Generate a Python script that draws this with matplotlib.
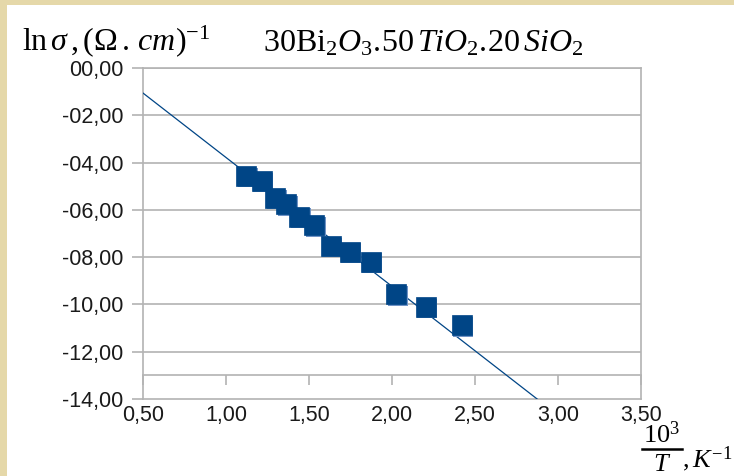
import numpy as np
import matplotlib
matplotlib.use("Agg")
import matplotlib.pyplot as plt
import matplotlib.patheffects as pe
from matplotlib.lines import Line2D

# ---- data ----
inv_T = [1.120, 1.215, 1.295, 1.361, 1.440, 1.530, 1.631, 1.745, 1.872, 2.024, 2.203, 2.420]
ln_sigma = [-4.56, -4.77, -5.49, -5.77, -6.29, -6.64, -7.52, -7.77, -8.19, -9.56, -10.10, -10.87]

# linear trend line as drawn in the reference: ln_sigma = slope * x + intercept
trend_slope = -5.45
trend_intercept = 1.665
trend_x = [0.5, 3.5]

x_ticks = [0.5, 1.0, 1.5, 2.0, 2.5, 3.0, 3.5]
x_tick_labels = ["0,50", "1,00", "1,50", "2,00", "2,50", "3,00", "3,50"]
y_ticks = [0, -2, -4, -6, -8, -10, -12, -14]
y_tick_labels = ["00,00", "-02,00", "-04,00", "-06,00", "-08,00", "-10,00", "-12,00", "-14,00"]

plt.rcParams["mathtext.fontset"] = "custom"
plt.rcParams["mathtext.rm"] = "Liberation Serif"
plt.rcParams["mathtext.it"] = "Liberation Serif:italic"
plt.rcParams["mathtext.bf"] = "Liberation Serif:bold"

BLUE = "#004586"
GRID = "#b3b3b3"
BEIGE = "#e5d8a9"

fig = plt.figure(figsize=(7.34, 4.76), dpi=100)
fig.patch.set_facecolor(BEIGE)
fig.add_artist(plt.Rectangle((7 / 734, 0), 1, 1 - 5 / 476, transform=fig.transFigure,
                             facecolor="white", edgecolor="none", zorder=0))

ax = fig.add_axes([143 / 734, 1 - 399 / 476, (641 - 143) / 734, (399 - 68) / 476])
ax.set_xlim(0.5, 3.5)
ax.set_ylim(-14, 0)

for s in ax.spines.values():
    s.set_color(GRID)
    s.set_linewidth(1.2)

for v in y_ticks[:-1]:
    ax.axhline(v, color=GRID, lw=1.2, zorder=1)

ax.set_yticks(y_ticks)
ax.set_yticklabels(y_tick_labels)
ax.tick_params(axis="y", direction="out", length=8, width=1.2, color=GRID,
               labelsize=15.5, pad=6, labelcolor="#1a1a1a")
ax.set_xticks(x_ticks)
ax.set_xticklabels(x_tick_labels)
ax.tick_params(axis="x", length=0, labelsize=15.5, pad=4, labelcolor="#1a1a1a")
for lab in ax.get_xticklabels() + ax.get_yticklabels():
    lab.set_fontfamily("Liberation Sans")

# axis line at y = -13 with downward ticks
sec = ax.secondary_xaxis(-13, transform=ax.transData)
sec.set_xticks(x_ticks)
sec.tick_params(axis="x", direction="out", length=7.5, width=1.2, color=GRID, labelbottom=False)
sec.spines["bottom"].set_color(GRID)
sec.spines["bottom"].set_linewidth(1.2)

xt = np.array(trend_x)
ax.plot(xt, trend_slope * xt + trend_intercept, color=BLUE, lw=0.9, zorder=3)

ax.plot(inv_T, ln_sigma, ls="none", marker="s", ms=14.3, mfc=BLUE, mec=BLUE, mew=0.5,
        zorder=4,
        path_effects=[pe.SimplePatchShadow(offset=(1.2, -1.2), shadow_rgbFace="#6f93c6", alpha=1.0),
                      pe.Normal()])

# texts
fig.text(22 / 734, 1 - 50 / 476, r"$\mathrm{ln}\,\sigma\,,(\Omega\,{.}\,cm)^{-1}$",
         fontsize=23, ha="left", va="baseline")
fig.text(263 / 734, 1 - 52 / 476,
         r"$\mathrm{30Bi}_{2}O_{3}{.}\!\mathrm{50}\,TiO_{2}{.}\!\mathrm{20}\,SiO_{2}$",
         fontsize=23, ha="left", va="baseline")

# x-axis label: fraction 10^3 / T , K^-1
W, H = 734, 476
fig.text(662 / W, 1 - 443 / H, r"$10^{3}$", fontsize=19, ha="center", va="baseline")
fig.add_artist(Line2D([642 / W, 682 / W], [1 - 449 / H, 1 - 449 / H],
                      transform=fig.transFigure, color="black", lw=1.8))
fig.text(662 / W, 1 - 471 / H, r"$T$", fontsize=19, ha="center", va="baseline")
fig.text(682 / W, 1 - 467 / H, r"$,K^{-1}$", fontsize=19, ha="left", va="baseline")

fig.savefig("out.png", dpi=100, facecolor=fig.get_facecolor())
